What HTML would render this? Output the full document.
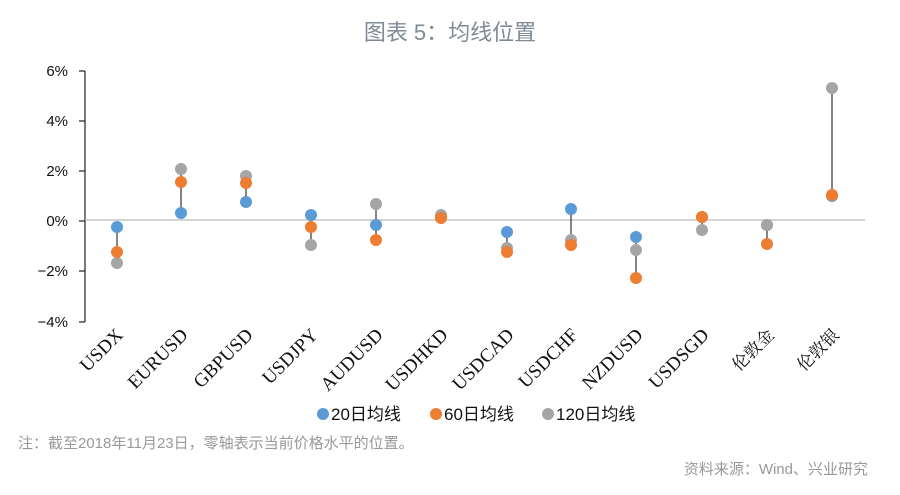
<!DOCTYPE html>
<html><head><meta charset="utf-8"><style>
body{margin:0;background:#fff;width:900px;height:490px;overflow:hidden}
</style></head><body>
<svg width="900" height="490" xmlns="http://www.w3.org/2000/svg">
<text x="450" y="40" text-anchor="middle" font-family="Liberation Sans, Noto Sans CJK SC, sans-serif" font-size="22" fill="#7f8a95">图表 5：均线位置</text>
<g font-family="Liberation Sans, sans-serif" font-size="15" fill="#111" text-anchor="end">
<text x="68" y="76">6%</text><text x="68" y="126">4%</text><text x="68" y="176">2%</text>
<text x="68" y="226">0%</text><text x="68" y="276">−2%</text><text x="68" y="327">−4%</text>
</g>
<g stroke="#222" stroke-width="1.2">
<line x1="85" y1="71" x2="85" y2="322"/>
<line x1="79" y1="71" x2="85" y2="71"/><line x1="79" y1="121" x2="85" y2="121"/>
<line x1="79" y1="171" x2="85" y2="171"/><line x1="79" y1="221" x2="85" y2="221"/>
<line x1="79" y1="271" x2="85" y2="271"/><line x1="79" y1="322" x2="85" y2="322"/>
</g>
<line x1="85" y1="220" x2="865" y2="220" stroke="#bbb" stroke-width="1.2"/>
<g stroke="#333" stroke-width="1.2">
<line x1="117" y1="227" x2="117" y2="263"/>
<line x1="181" y1="169" x2="181" y2="213"/>
<line x1="246" y1="176" x2="246" y2="202"/>
<line x1="311" y1="215" x2="311" y2="245"/>
<line x1="376" y1="204" x2="376" y2="240"/>
<line x1="441" y1="215" x2="441" y2="218"/>
<line x1="507" y1="232" x2="507" y2="252"/>
<line x1="571" y1="209" x2="571" y2="245"/>
<line x1="636" y1="237" x2="636" y2="278"/>
<line x1="702" y1="217" x2="702" y2="230"/>
<line x1="767" y1="225" x2="767" y2="244"/>
<line x1="832" y1="88" x2="832" y2="196"/>
</g>
<g fill="#5b9bd5">
<circle cx="117" cy="227" r="6"/><circle cx="181" cy="213" r="6"/><circle cx="246" cy="202" r="6"/>
<circle cx="311" cy="215" r="6"/><circle cx="376" cy="225" r="6"/><circle cx="441" cy="217" r="6"/>
<circle cx="507" cy="232" r="6"/><circle cx="571" cy="209" r="6"/><circle cx="636" cy="237" r="6"/>
<circle cx="702" cy="217" r="6"/><circle cx="767" cy="225" r="6"/><circle cx="832" cy="196" r="6"/>
</g>
<g fill="#a5a5a5">
<circle cx="117" cy="263" r="6"/><circle cx="181" cy="169" r="6"/><circle cx="246" cy="176" r="6"/>
<circle cx="311" cy="245" r="6"/><circle cx="376" cy="204" r="6"/><circle cx="441" cy="215" r="6"/>
<circle cx="507" cy="248" r="6"/><circle cx="571" cy="240" r="6"/><circle cx="636" cy="250" r="6"/>
<circle cx="702" cy="230" r="6"/><circle cx="767" cy="225" r="6"/><circle cx="832" cy="88" r="6"/>
</g>
<g fill="#ed7d31">
<circle cx="117" cy="252" r="6"/><circle cx="181" cy="182" r="6"/><circle cx="246" cy="183" r="6"/>
<circle cx="311" cy="227" r="6"/><circle cx="376" cy="240" r="6"/><circle cx="441" cy="218" r="6"/>
<circle cx="507" cy="252" r="6"/><circle cx="571" cy="245" r="6"/><circle cx="636" cy="278" r="6"/>
<circle cx="702" cy="217" r="6"/><circle cx="767" cy="244" r="6"/><circle cx="832" cy="195" r="6"/>
</g>
<g font-family="Liberation Serif, Noto Serif CJK SC, serif" font-size="19" fill="#111" text-anchor="end">
<text transform="translate(124,336) rotate(-45)">USDX</text>
<text transform="translate(189,336) rotate(-45)">EURUSD</text>
<text transform="translate(254,336) rotate(-45)">GBPUSD</text>
<text transform="translate(319,336) rotate(-45)">USDJPY</text>
<text transform="translate(384,336) rotate(-45)">AUDUSD</text>
<text transform="translate(449,336) rotate(-45)">USDHKD</text>
<text transform="translate(515,336) rotate(-45)">USDCAD</text>
<text transform="translate(579,336) rotate(-45)">USDCHF</text>
<text transform="translate(644,336) rotate(-45)">NZDUSD</text>
<text transform="translate(710,336) rotate(-45)">USDSGD</text>
<text transform="translate(775,336) rotate(-45)" font-size="17">伦敦金</text>
<text transform="translate(840,336) rotate(-45)" font-size="17">伦敦银</text>
</g>
<g font-family="Liberation Sans, Noto Sans CJK SC, sans-serif" font-size="17" fill="#111">
<circle cx="323" cy="414" r="6" fill="#5b9bd5"/><text x="331" y="420">20日均线</text>
<circle cx="436" cy="414" r="6" fill="#ed7d31"/><text x="444" y="420">60日均线</text>
<circle cx="548" cy="414" r="6" fill="#a5a5a5"/><text x="556" y="420">120日均线</text>
</g>
<text x="18" y="448" font-family="Liberation Sans, Noto Sans CJK SC, sans-serif" font-size="15" fill="#999">注：截至2018年11月23日，零轴表示当前价格水平的位置。</text>
<text x="868" y="474" text-anchor="end" font-family="Liberation Sans, Noto Sans CJK SC, sans-serif" font-size="15" fill="#999">资料来源：Wind、兴业研究</text>
</svg>
</body></html>
